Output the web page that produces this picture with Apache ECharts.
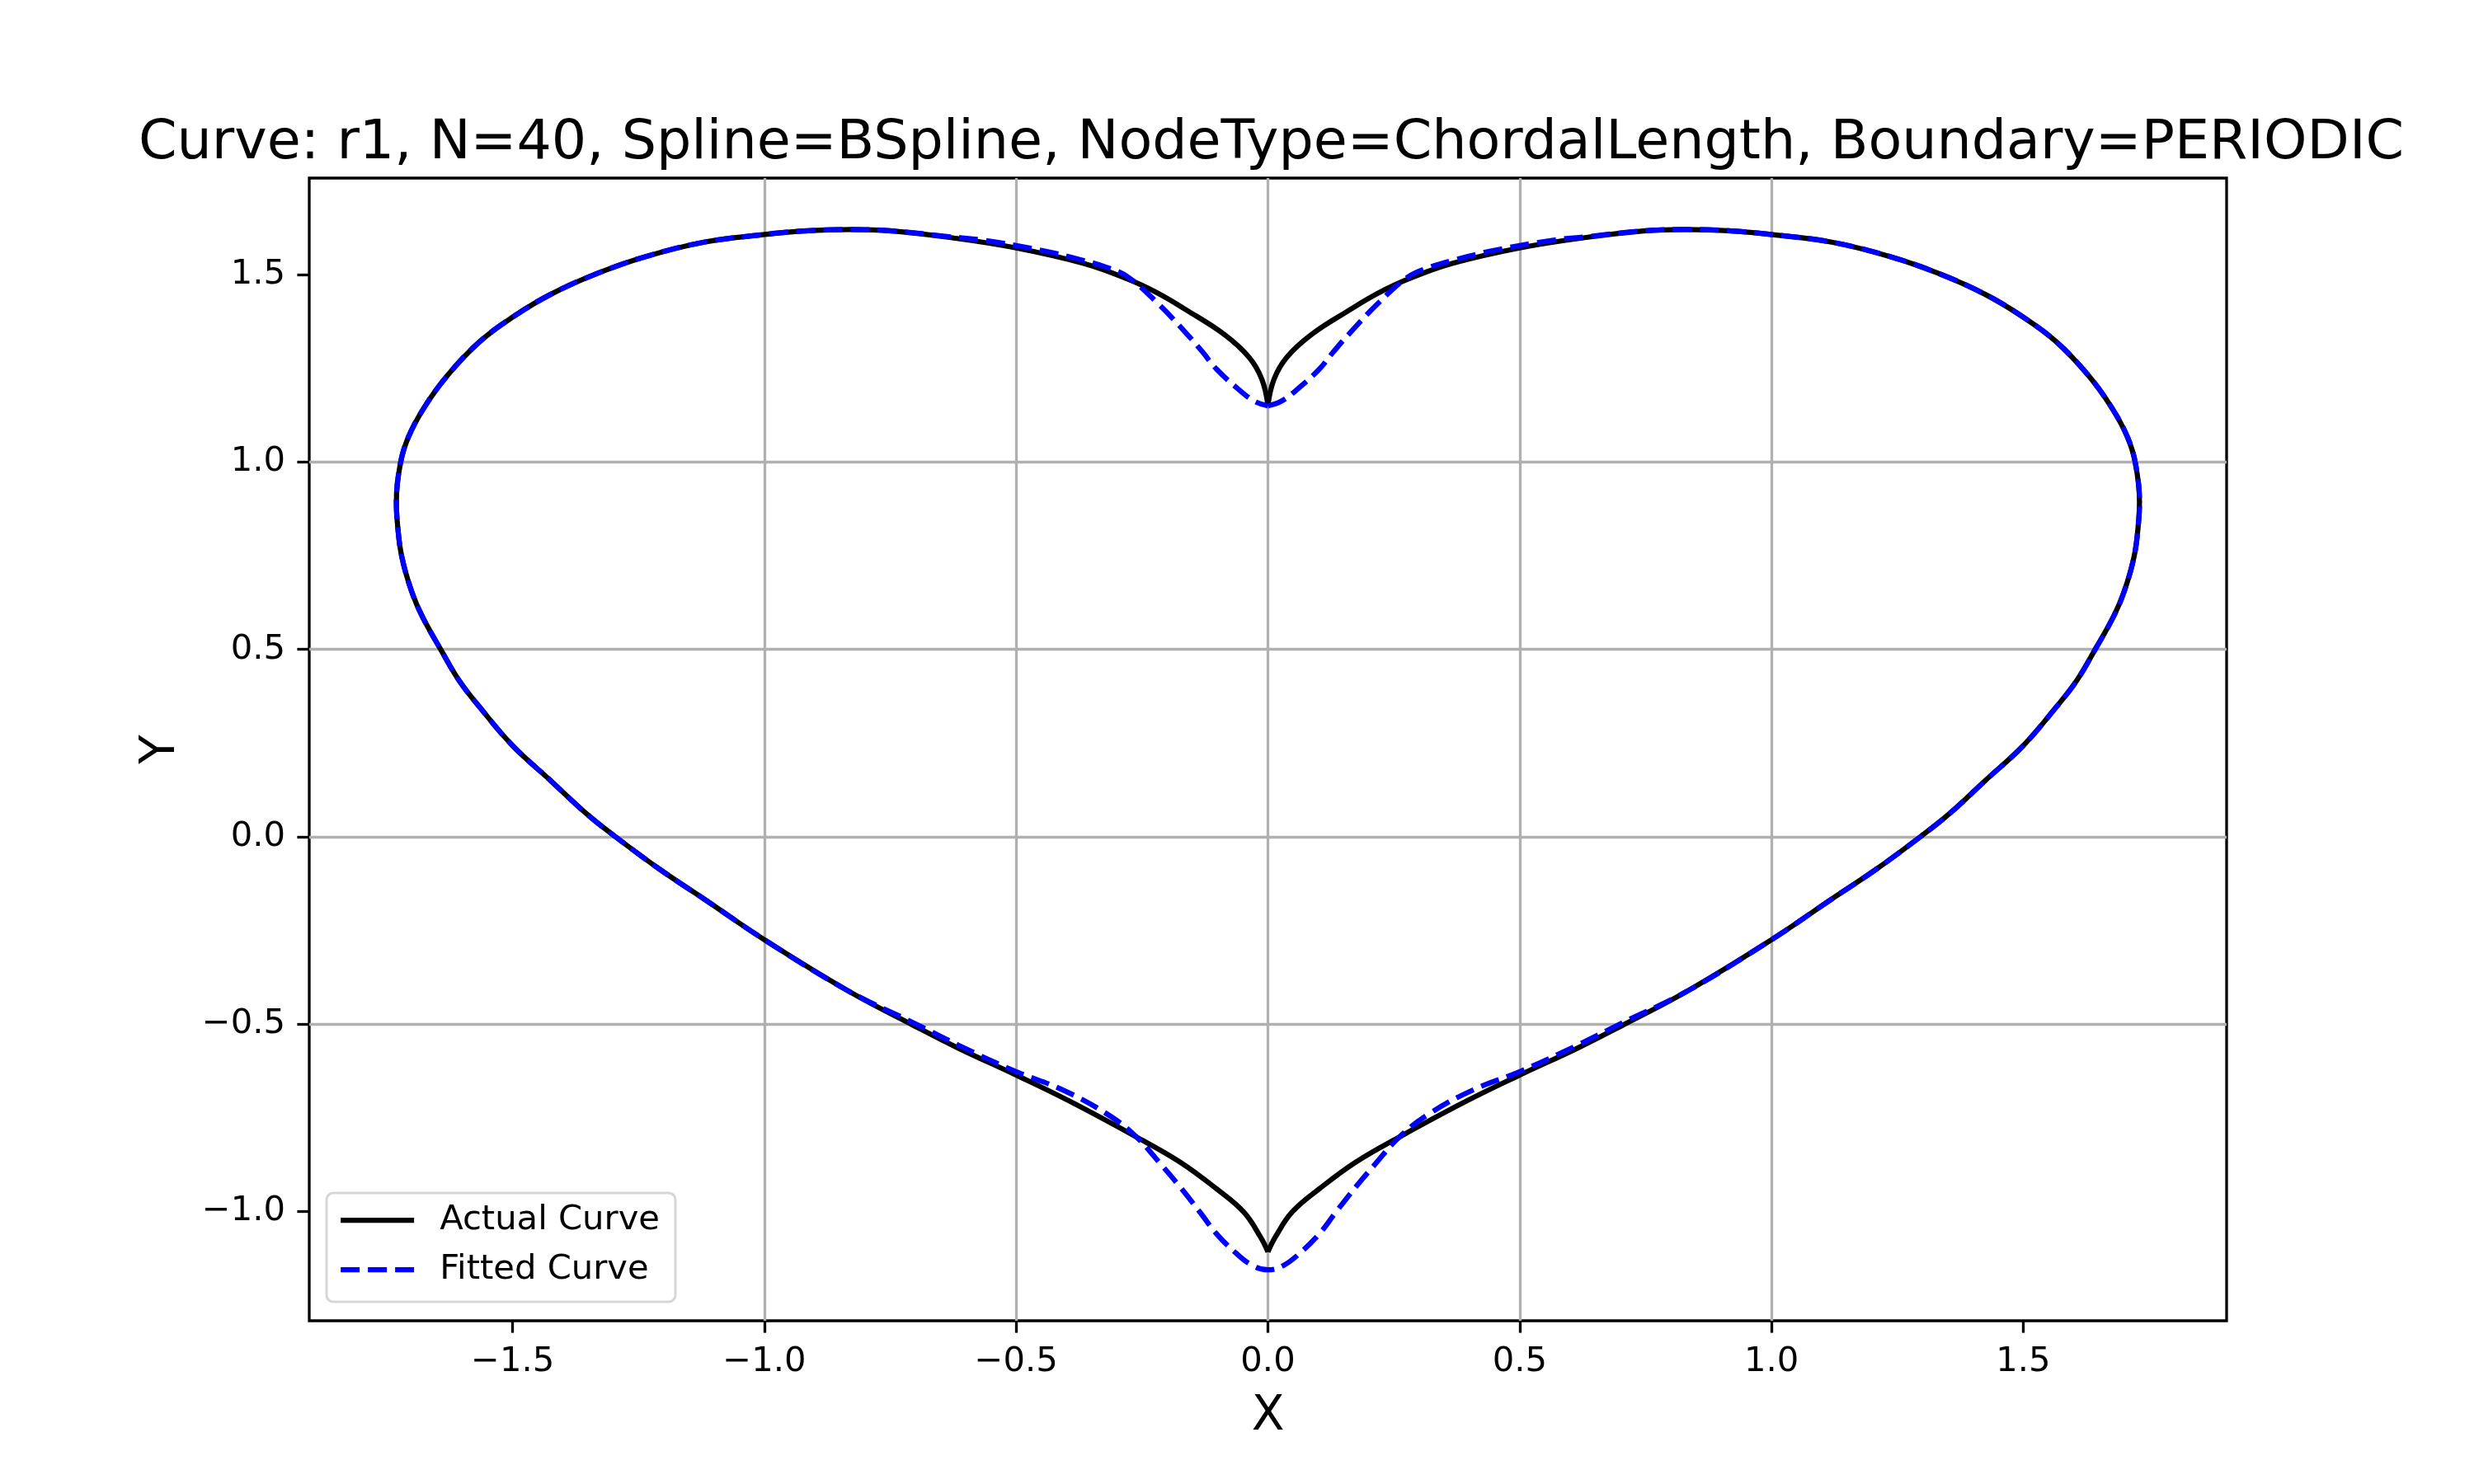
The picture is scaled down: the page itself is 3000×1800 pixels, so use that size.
<!DOCTYPE html>
<html style="height: 100%">
<head>
    <meta charset="utf-8">
    <title>Curve r1 - BSpline fit</title>
    <script src="https://cdn.jsdelivr.net/npm/echarts@6/dist/echarts.min.js"></script>
</head>
<body style="height: 100%; margin: 0; background: #fff">
    <div id="container" style="width: 3000px; height: 1800px"></div>
    <script type="text/javascript">

        // points, [x, y]
        // actual curve, right half: top cusp -> bottom cusp
        let actualRight = [
            [0.000, 1.152], [0.012, 1.221], [0.037, 1.279], [0.086, 1.340], [0.161, 1.405],
            [0.219, 1.451], [0.278, 1.488], [0.366, 1.530], [0.502, 1.572], [0.629, 1.599],
            [0.746, 1.617], [0.828, 1.621], [0.921, 1.617], [1.003, 1.607], [1.120, 1.587],
            [1.237, 1.548], [1.331, 1.504], [1.424, 1.448], [1.500, 1.387], [1.565, 1.322],
            [1.629, 1.232], [1.676, 1.145], [1.707, 1.067], [1.723, 0.996], [1.731, 0.894],
            [1.728, 0.823], [1.720, 0.746], [1.701, 0.656], [1.680, 0.589], [1.643, 0.500],
            [1.606, 0.416], [1.565, 0.345], [1.500, 0.243], [1.424, 0.149], [1.354, 0.062],
            [1.296, 0.000], [1.208, -0.087], [1.120, -0.166], [1.000, -0.275], [0.833, -0.412],
            [0.702, -0.505], [0.614, -0.565], [0.502, -0.635], [0.395, -0.705], [0.263, -0.800],
            [0.175, -0.868], [0.102, -0.940], [0.048, -1.002], [0.015, -1.068], [0.000, -1.108]
        ];

        // actual curve, left half: top cusp -> bottom cusp
        let actualLeft = [
            [0.000, 1.152], [-0.012, 1.221], [-0.037, 1.279], [-0.086, 1.340], [-0.161, 1.405],
            [-0.219, 1.451], [-0.278, 1.488], [-0.366, 1.530], [-0.502, 1.572], [-0.629, 1.599],
            [-0.746, 1.617], [-0.828, 1.621], [-0.921, 1.617], [-1.003, 1.607], [-1.120, 1.587],
            [-1.237, 1.548], [-1.331, 1.504], [-1.424, 1.448], [-1.500, 1.387], [-1.565, 1.322],
            [-1.629, 1.232], [-1.676, 1.145], [-1.707, 1.067], [-1.723, 0.996], [-1.731, 0.894],
            [-1.728, 0.823], [-1.720, 0.746], [-1.701, 0.656], [-1.680, 0.589], [-1.643, 0.500],
            [-1.606, 0.416], [-1.565, 0.345], [-1.500, 0.243], [-1.424, 0.149], [-1.354, 0.062],
            [-1.296, 0.000], [-1.208, -0.087], [-1.120, -0.166], [-1.000, -0.275], [-0.833, -0.412],
            [-0.702, -0.505], [-0.614, -0.565], [-0.502, -0.635], [-0.395, -0.705], [-0.263, -0.800],
            [-0.175, -0.868], [-0.102, -0.940], [-0.048, -1.002], [-0.015, -1.068], [0.000, -1.108]
        ];

        // fitted curve, closed loop starting at the top dip, going clockwise
        let fitted = [
            [0.000, 1.150], [0.026, 1.162], [0.059, 1.195], [0.102, 1.248], [0.130, 1.294],
            [0.161, 1.342], [0.219, 1.424], [0.278, 1.494], [0.321, 1.520], [0.366, 1.538],
            [0.453, 1.566], [0.570, 1.593], [0.629, 1.601], [0.746, 1.617], [0.828, 1.621],
            [0.921, 1.617], [1.003, 1.607], [1.120, 1.587], [1.237, 1.548], [1.331, 1.504],
            [1.424, 1.448], [1.500, 1.387], [1.565, 1.322], [1.629, 1.232], [1.676, 1.145],
            [1.707, 1.067], [1.723, 0.996], [1.731, 0.894], [1.728, 0.823], [1.720, 0.746],
            [1.701, 0.656], [1.680, 0.589], [1.643, 0.500], [1.606, 0.416], [1.565, 0.345],
            [1.500, 0.243], [1.424, 0.149], [1.354, 0.062], [1.296, 0.000], [1.208, -0.087],
            [1.120, -0.166], [1.000, -0.275], [0.833, -0.412], [0.702, -0.498], [0.614, -0.557],
            [0.502, -0.626], [0.409, -0.675], [0.322, -0.738], [0.263, -0.799], [0.211, -0.877],
            [0.175, -0.934], [0.135, -1.002], [0.102, -1.060], [0.063, -1.112], [0.030, -1.145],
            [0.000, -1.156],
            [-0.030, -1.145], [-0.063, -1.112], [-0.102, -1.060], [-0.135, -1.002], [-0.175, -0.934],
            [-0.211, -0.877], [-0.263, -0.799], [-0.322, -0.738], [-0.409, -0.675], [-0.502, -0.626],
            [-0.614, -0.557], [-0.702, -0.498], [-0.833, -0.412], [-1.000, -0.275], [-1.120, -0.166],
            [-1.208, -0.087], [-1.296, 0.000], [-1.354, 0.062], [-1.424, 0.149], [-1.500, 0.243],
            [-1.565, 0.345], [-1.606, 0.416], [-1.643, 0.500], [-1.680, 0.589], [-1.701, 0.656],
            [-1.720, 0.746], [-1.728, 0.823], [-1.731, 0.894], [-1.723, 0.996], [-1.707, 1.067],
            [-1.676, 1.145], [-1.629, 1.232], [-1.565, 1.322], [-1.500, 1.387], [-1.424, 1.448],
            [-1.331, 1.504], [-1.237, 1.548], [-1.120, 1.587], [-1.003, 1.607], [-0.921, 1.617],
            [-0.828, 1.621], [-0.746, 1.617], [-0.629, 1.601], [-0.570, 1.593], [-0.453, 1.566],
            [-0.366, 1.538], [-0.321, 1.520], [-0.278, 1.494], [-0.219, 1.424], [-0.161, 1.342],
            [-0.130, 1.294], [-0.102, 1.248], [-0.059, 1.195], [-0.026, 1.162], [0.000, 1.150]
        ];

        let xTicks = [-1.5, -1.0, -0.5, 0.0, 0.5, 1.0, 1.5];
        let yTicks = [-1.0, -0.5, 0.0, 0.5, 1.0, 1.5];

        let titleText = 'Curve: r1, N=40, Spline=BSpline, NodeType=ChordalLength, Boundary=PERIODIC';

        const FONT = 'DejaVu Sans';
        const LW = 6.25;     // 1.5pt at 300 dpi
        const THIN = 3.3;    // 0.8pt

        function fmt(v) {
            return v.toFixed(1).replace('-', '\u2212');
        }

        let dom = document.getElementById('container');
        let chart = echarts.init(dom, null, { renderer: 'canvas' });

        let axisCommon = {
            type: 'value',
            axisLine: { show: false, onZero: false },
            axisTick: { show: true, length: 14.6, lineStyle: { color: '#000', width: THIN } },
            axisLabel: {
                show: true, margin: 29, color: '#000', fontFamily: FONT, fontSize: 41.7,
                formatter: fmt
            },
            splitLine: {
                show: true, showMinLine: false, showMaxLine: false,
                lineStyle: { color: '#b0b0b0', width: THIN }
            },
            nameLocation: 'middle',
            nameTextStyle: { color: '#000', fontFamily: FONT, fontSize: 58 }
        };

        chart.setOption({
            backgroundColor: '#fff',
            animation: false,
            title: {
                text: titleText,
                left: 168,
                top: 141,
                padding: 0,
                textStyle: { color: '#000', fontFamily: FONT, fontSize: 66.7, fontWeight: 'normal' }
            },
            grid: {
                left: 375, right: 300, top: 216, bottom: 198,
                show: true, borderColor: '#000', borderWidth: THIN, backgroundColor: 'transparent'
            },
            legend: {
                orient: 'vertical',
                left: 396,
                top: 1447,
                padding: [12, 19, 18, 14],
                itemWidth: 89,
                itemHeight: 42,
                itemGap: 18,
                backgroundColor: 'rgba(255,255,255,0.8)',
                borderColor: 'rgba(204,204,204,0.8)',
                borderWidth: 3,
                borderRadius: 8,
                itemStyle: { color: 'rgba(0,0,0,0)', borderColor: 'rgba(0,0,0,0)', borderWidth: 0 },
                lineStyle: { width: LW },
                textStyle: { color: '#000', fontFamily: FONT, fontSize: 41.7, padding: [0, 0, 0, 26] },
                data: ['Actual Curve', 'Fitted Curve']
            },
            xAxis: Object.assign({}, axisCommon, {
                min: -1.904, max: 1.904, splitNumber: 8,
                name: 'X', nameGap: 88,
                axisTick: Object.assign({}, axisCommon.axisTick, { customValues: xTicks }),
                axisLabel: Object.assign({}, axisCommon.axisLabel, { customValues: xTicks })
            }),
            yAxis: Object.assign({}, axisCommon, {
                min: -1.292, max: 1.758, splitNumber: 6,
                name: 'Y', nameGap: 150, nameRotate: 90,
                axisTick: Object.assign({}, axisCommon.axisTick, { customValues: yTicks }),
                axisLabel: Object.assign({}, axisCommon.axisLabel, { customValues: yTicks })
            }),
            series: [
                {
                    name: 'Actual Curve', type: 'line', data: actualRight,
                    symbol: 'none', smooth: 0.4,
                    lineStyle: { color: '#000', width: LW }, itemStyle: { color: '#000' }
                },
                {
                    name: 'Actual Curve', type: 'line', data: actualLeft,
                    symbol: 'none', smooth: 0.4,
                    lineStyle: { color: '#000', width: LW }, itemStyle: { color: '#000' }
                },
                {
                    name: 'Fitted Curve', type: 'line', data: fitted,
                    symbol: 'none', smooth: 0.4,
                    lineStyle: { color: '#0000ff', width: LW, type: [23, 10] }, itemStyle: { color: '#0000ff' }
                }
            ]
        });

    </script>
</body>
</html>
